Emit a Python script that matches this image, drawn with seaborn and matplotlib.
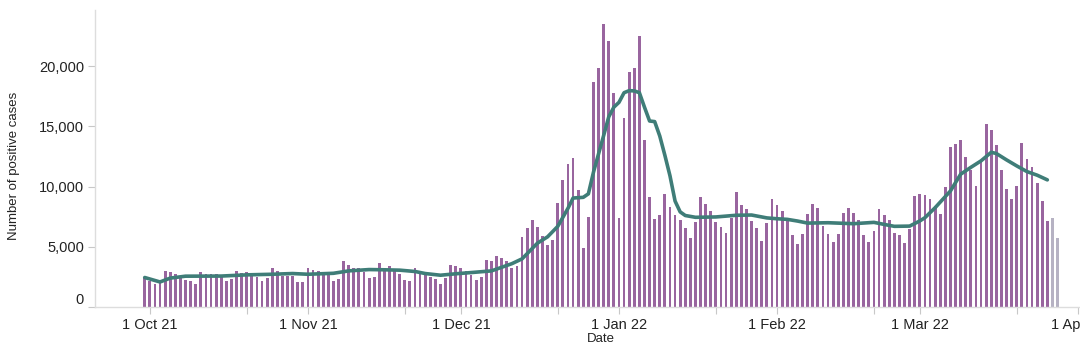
import numpy as np
import pandas as pd
import matplotlib
matplotlib.use("Agg")
import matplotlib.pyplot as plt
import matplotlib.dates as mdates
from matplotlib.transforms import ScaledTranslation
import seaborn as sns

# daily positive cases, 30 Sep 2021 -> 28 Mar 2022
first_day = "2021-09-30"
cases = [
    # 30 Sep - 1 Nov
    2450, 2170, 1920, 2000, 2970, 2890, 2700, 2530, 2250, 2200, 1920, 2890, 2700, 2700, 2700, 2530,
    2200, 2300, 2970, 2800, 2890, 2610, 2530, 2200, 2390, 3280, 2970, 2610, 2610, 2610, 2085, 2085, 3280,
    # 2 Nov - 2 Dec
    3085, 2970, 2670, 2670, 2200, 2300, 3860, 3500, 3280, 3280, 2920, 2420, 2500, 3670, 3280, 3390,
    2970, 2780, 2280, 2200, 3200, 2700, 2700, 2500, 2300, 1920, 2390, 3475, 3390, 3200, 3000,
    # 3 Dec - 3 Jan
    2667, 2220, 2500, 3890, 3780, 4195, 4055, 3780, 3280, 3390, 5780, 6555, 7250, 6670, 5890, 5170,
    5585, 8640, 10530, 11890, 12390, 9750, 4890, 7470, 18720, 19835, 23470, 22110, 17750, 7360, 15670, 19500,
    # 4 Jan - 3 Feb
    19835, 22500, 13890, 9140, 7280, 7670, 9420, 8330, 7670, 7250, 6580, 5750, 7060, 9140, 8530, 7945,
    7060, 6670, 6170, 7360, 9530, 8440, 8170, 7140, 6580, 5470, 6970, 8945, 8440, 7945, 7140,
    # 4 Feb - 28 Mar
    5950, 5250, 6030, 7720, 8530, 8220, 6720, 6060, 5440, 6060, 7810, 8220, 7810, 7220, 5950, 5440,
    6330, 8110, 7610, 7220, 6140, 5945, 5330, 6500, 9195, 9390, 9280, 9000, 8400, 7720, 9970, 13250,
    13530, 13860, 12470, 11390, 10080, 12060, 15195, 14720, 13470, 11360, 9810, 9000, 10080, 13640,
    12280, 11640, 10310, 8810, 7110, 7420, 5720,
]
n_incomplete = 2  # last days still being reported

# rolling average line
avg_dates = [
    "2021-09-30", "2021-10-03", "2021-10-05", "2021-10-08", "2021-10-15", "2021-10-20", "2021-10-25",
    "2021-10-29", "2021-11-01", "2021-11-06", "2021-11-09", "2021-11-13", "2021-11-16", "2021-11-19",
    "2021-11-22", "2021-11-24", "2021-11-27", "2021-11-30", "2021-12-03", "2021-12-07", "2021-12-11",
    "2021-12-13", "2021-12-16", "2021-12-18", "2021-12-20", "2021-12-22", "2021-12-23", "2021-12-25",
    "2021-12-26", "2021-12-27", "2021-12-29", "2021-12-30", "2021-12-31", "2022-01-01", "2022-01-02",
    "2022-01-03", "2022-01-04", "2022-01-05", "2022-01-06", "2022-01-07", "2022-01-08", "2022-01-09",
    "2022-01-10", "2022-01-11", "2022-01-12", "2022-01-13", "2022-01-14", "2022-01-16", "2022-01-20",
    "2022-01-24", "2022-01-27", "2022-01-30", "2022-02-01", "2022-02-03", "2022-02-05", "2022-02-07",
    "2022-02-11", "2022-02-16", "2022-02-20", "2022-02-22", "2022-02-24", "2022-02-27", "2022-03-01",
    "2022-03-02", "2022-03-04", "2022-03-07", "2022-03-09", "2022-03-11", "2022-03-13", "2022-03-15",
    "2022-03-16", "2022-03-18", "2022-03-20", "2022-03-22", "2022-03-24", "2022-03-26",
]
avg_values = [
    2450, 2080, 2400, 2560, 2570, 2670, 2720,
    2780, 2720, 2800, 3000, 3110, 3090, 3060,
    2950, 2780, 2640, 2760, 2860, 3000, 3600,
    4000, 5300, 5830, 6700, 8200, 9050, 9110,
    9400, 11200, 14250, 15800, 16600, 17000, 17800,
    17970, 17950, 17800, 16600, 15450, 15400, 14200,
    12600, 10900, 8800, 7900, 7600, 7450, 7480,
    7620, 7640, 7400, 7330, 7280, 7140, 6970,
    7000, 6920, 7030, 6860, 6700, 6720, 7150,
    7420, 8250, 9640, 11030, 11600, 12140, 12850,
    12750, 12220, 11720, 11250, 10950, 10560,
]

tick_months = ["2021-10-01", "2021-11-01", "2021-12-01", "2022-01-01", "2022-02-01", "2022-03-01", "2022-04-01"]
tick_labels = ["1 Oct 21", "1 Nov 21", "1 Dec 21", "1 Jan 22", "1 Feb 22", "1 Mar 22", "1 Apr 22"]
minor_days = ["2021-10-20", "2021-11-20", "2021-12-20", "2022-01-20", "2022-02-20", "2022-03-20"]

days = pd.date_range(first_day, periods=len(cases), freq="D")
status = ["complete"] * (len(cases) - n_incomplete) + ["incomplete"] * n_incomplete
bars = pd.DataFrame({"day": mdates.date2num(days), "cases": cases, "status": status})
line = pd.DataFrame({"day": mdates.date2num(pd.to_datetime(avg_dates)), "avg": avg_values})

sns.set_style("white")
plt.rcParams["font.family"] = ["Liberation Sans", "DejaVu Sans"]

fig = plt.figure(figsize=(10.8, 3.55), dpi=100)
ax = fig.add_axes([95 / 1080, 1 - 307 / 355, 1012 / 1080, 297 / 355])

sns.barplot(data=bars, x="day", y="cases", hue="status", native_scale=True, dodge=False,
            palette={"complete": "#a05ca8", "incomplete": "#b4afc6"}, width=0.55,
            linewidth=0, legend=False, ax=ax)
sns.lineplot(data=line, x="day", y="avg", color="#3f7d78", linewidth=2.6, ax=ax)

d0 = mdates.date2num(pd.Timestamp(first_day))
ax.set_xlim(d0 - 9.75, d0 + 188.7)
ax.set_ylim(0, 24670)

ax.set_xticks(mdates.date2num(pd.to_datetime(tick_months)))
ax.set_xticklabels(tick_labels)
ax.set_xticks(mdates.date2num(pd.to_datetime(minor_days)), minor=True)
ax.set_yticks([0, 5000, 10000, 15000, 20000])
ax.set_yticklabels([f"{v:,}" for v in [0, 5000, 10000, 15000, 20000]])

ax.tick_params(axis="both", which="both", length=5, width=0.8, color="#c8c8c8",
               labelsize=10.5, labelcolor="#222222", pad=3, bottom=True, left=True)
for side in ["top", "right"]:
    ax.spines[side].set_visible(False)
for side in ["left", "bottom"]:
    ax.spines[side].set_color("#dddddd")
    ax.spines[side].set_linewidth(1)

ax.set_xlabel("Date", fontsize=9.5, color="#222222", labelpad=1)
ax.set_ylabel("Number of positive cases", fontsize=9.5, color="#222222")
ax.yaxis.set_label_coords(-0.074, 0.475)

# keep the zero label inside the axis like the original
zero = ax.yaxis.get_major_ticks()[0].label1
zero.set_transform(zero.get_transform() + ScaledTranslation(0, 9 / 100, fig.dpi_scale_trans))

fig.savefig("out.png", dpi=100)
